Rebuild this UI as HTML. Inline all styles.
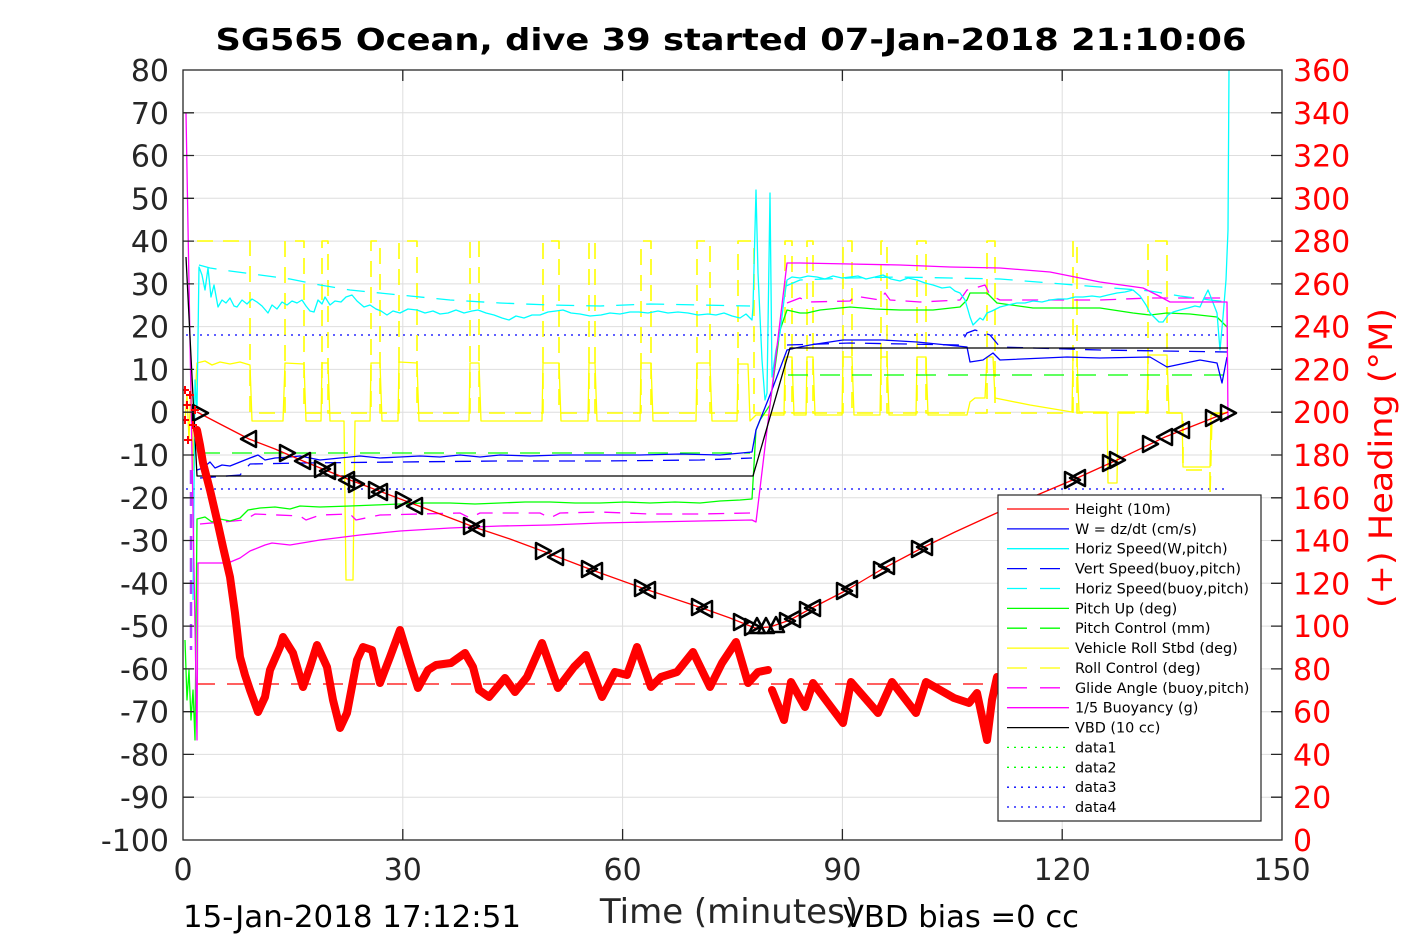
<!DOCTYPE html>
<html><head><meta charset="utf-8"><style>
html,body{margin:0;padding:0;background:#fff;}
svg{display:block;}
text{font-family:"DejaVu Sans","Liberation Sans",sans-serif;}
</style></head><body>
<svg width="1417" height="945" viewBox="0 0 1417 945" xmlns="http://www.w3.org/2000/svg">
<defs>
<clipPath id="pc"><rect x="183" y="70" width="1099" height="770"/></clipPath>
<path id="R" d="M-7,-8 L8,0 L-7,8 Z" fill="none" stroke="#000" stroke-width="2.5"/>
<path id="L" d="M7,-8 L-8,0 L7,8 Z" fill="none" stroke="#000" stroke-width="2.5"/>
<path id="U" d="M-8,7 L0,-8 L8,7 Z" fill="none" stroke="#000" stroke-width="2.5"/>
</defs>
<rect x="0" y="0" width="1417" height="945" fill="#fff"/>
<rect x="183" y="70" width="1099" height="770" fill="#fff"/>
<!-- grid -->
<g stroke="#dedede" stroke-width="1">
<line x1="183" y1="112.8" x2="1282" y2="112.8"/><line x1="183" y1="155.5" x2="1282" y2="155.5"/>
<line x1="183" y1="198.3" x2="1282" y2="198.3"/><line x1="183" y1="241.1" x2="1282" y2="241.1"/>
<line x1="183" y1="283.9" x2="1282" y2="283.9"/><line x1="183" y1="326.6" x2="1282" y2="326.6"/>
<line x1="183" y1="369.4" x2="1282" y2="369.4"/><line x1="183" y1="412.2" x2="1282" y2="412.2"/>
<line x1="183" y1="455" x2="1282" y2="455"/><line x1="183" y1="497.8" x2="1282" y2="497.8"/>
<line x1="183" y1="540.5" x2="1282" y2="540.5"/><line x1="183" y1="583.3" x2="1282" y2="583.3"/>
<line x1="183" y1="626.1" x2="1282" y2="626.1"/><line x1="183" y1="668.9" x2="1282" y2="668.9"/>
<line x1="183" y1="711.7" x2="1282" y2="711.7"/><line x1="183" y1="754.4" x2="1282" y2="754.4"/>
<line x1="183" y1="797.2" x2="1282" y2="797.2"/>
<line x1="402.8" y1="70" x2="402.8" y2="840"/><line x1="622.6" y1="70" x2="622.6" y2="840"/>
<line x1="842.4" y1="70" x2="842.4" y2="840"/><line x1="1062.2" y1="70" x2="1062.2" y2="840"/>
</g>
<g clip-path="url(#pc)" fill="none" stroke-linejoin="round">
<!-- reference lines -->
<line x1="186" y1="335" x2="1228" y2="335" stroke="#0000ff" stroke-width="1.3" stroke-dasharray="2 5"/>
<line x1="186" y1="489" x2="1228" y2="489" stroke="#0000ff" stroke-width="1.3" stroke-dasharray="2 5"/>
<line x1="195" y1="684" x2="1228" y2="684" stroke="#ff0000" stroke-width="1.3" stroke-dasharray="20 12"/>
<!-- yellow dashed roll control -->
<polyline stroke="#ffff00" stroke-width="1.6" stroke-dasharray="16 10" points="197,241 250,241 250,413 285,413 285,241 304,241 304,413 322,413 322,241 328,241 328,413 371,413 371,241 380,241 380,413 399,413 399,241 417,241 417,413 470,413 470,241 479,241 479,413 543,413 543,241 559,241 559,413 589,413 589,241 595,241 595,413 641,413 641,241 651,241 651,413 697,413 697,241 710,241 710,413 738,413 738,241 754,241 754,413 785,413 785,241 792,241 792,413 807,413 807,241 813,241 813,413 843,413 843,241 852,241 852,413 881,413 881,241 887,241 887,413 917,413 917,241 926,241 926,413 987,413 987,241 995,241 995,413 1073,413 1073,241 1077,241 1077,413 1148,413 1148,241 1167,241 1167,413 1183,413 1183,470 1210,470 1210,495 1212,413 1228,413"/>
<!-- yellow solid roll -->
<polyline stroke="#ffff00" stroke-width="1.3" points="185,420 187,395 189,440 191,380 193,470 195,400 197,363 205,361 212,365 220,362 230,364 240,362 250,365 252,421 283,421 285,363 304,364 306,421 321,421 322,363 328,363 330,421 344,421 346,580 353,580 355,421 370,421 371,363 380,363 382,421 398,421 399,362 417,363 419,421 469,421 470,363 479,363 481,421 542,421 543,363 559,363 561,421 588,421 589,363 595,363 597,421 640,421 641,363 651,363 653,421 696,421 697,363 710,363 712,421 737,421 738,364 748,364 750,421 756,415 784,415 785,357 792,357 794,415 806,415 807,357 813,357 815,415 842,415 843,357 852,357 854,415 880,415 881,357 887,357 889,415 916,415 917,357 926,357 928,415 967,415 970,402 975,398 985,398 987,357 993,357 995,398 1030,405 1060,410 1072,412 1073,357 1077,357 1079,412 1107,412 1108,483 1117,483 1118,412 1147,412 1148,355 1167,355 1169,413 1182,413 1183,467 1210,467 1211,415 1228,412"/>
<!-- green dashed pitch control -->
<polyline stroke="#00ff00" stroke-width="1.3" stroke-dasharray="20 12" points="200,453 750,453"/>
<polyline stroke="#00ff00" stroke-width="1.3" stroke-dasharray="20 12" points="788,375 1228,375"/>
<!-- magenta dashed glide angle -->
<polyline stroke="#ff00ff" stroke-width="1.3" stroke-dasharray="16 10" points="200,524 245,520 255,514 300,516 306,520 320,515 350,514 356,520 380,515 420,514 460,513 470,518 480,513 540,513 550,518 560,513 600,512 650,514 700,514 750,513"/>
<polyline stroke="#ff00ff" stroke-width="1.3" stroke-dasharray="16 10" points="787,303 800,298 808,302 850,301 855,296 880,300 885,293 890,300 920,302 960,300 967,290 975,288 985,285 990,295 1000,300 1100,300 1150,298 1228,298"/>
<!-- cyan dashed -->
<polyline stroke="#00ffff" stroke-width="1.3" stroke-dasharray="18 12" points="199,265 210,268 230,271 260,275 290,279 320,285 350,290 380,293 410,296 450,300 500,303 550,305 600,306 650,304 700,305 750,306"/>
<polyline stroke="#00ffff" stroke-width="1.3" stroke-dasharray="18 12" points="786,286 800,280 850,278 900,277 950,278 1000,279 1050,283 1100,287 1150,291 1180,296 1210,300 1228,302"/>
<!-- blue dashed -->
<polyline stroke="#0000ff" stroke-width="1.3" stroke-dasharray="16 10" points="200,478 240,475 250,464 300,463 400,462 500,461 600,461 700,460 752,458"/>
<polyline stroke="#0000ff" stroke-width="1.3" stroke-dasharray="16 10" points="787,345 850,343 960,345 967,333 975,330 990,335 1000,347 1100,350 1228,352"/>
<!-- magenta early dashed -->
<line x1="191" y1="470" x2="191" y2="650" stroke="#b040ff" stroke-width="2.5" stroke-dasharray="14 8"/>
<!-- green solid -->
<polyline stroke="#00ff00" stroke-width="1.3" points="185,640 187,700 189,670 191,720 193,690 195,740 197,519 205,517 212,522 220,519 230,521 240,518 248,510 260,508 275,507 290,509 300,506 320,507 350,506 375,505 400,504 425,503 450,503 475,504 500,503 525,502 550,502 575,503 600,503 625,502 650,503 675,502 700,503 720,501 740,500 752,499 756,430 760,420 770,405 780,330 787,310 800,313 807,313 820,310 850,307 875,309 900,310 933,310 960,307 967,300 970,293 987,293 997,303 1033,308 1100,308 1133,313 1150,315 1167,313 1190,314 1217,317 1227,327"/>
<!-- blue solid W -->
<polyline stroke="#0000ff" stroke-width="1.3" points="197,470 203,468 210,462 215,468 222,465 230,466 240,462 250,458 258,455 265,460 275,458 290,457 300,456 320,460 340,458 360,456 380,458 400,457 420,456 440,457 460,455 480,457 500,455 530,456 560,455 600,455 640,455 680,454 720,455 752,452 756,430 770,395 787,350 800,347 810,345 843,340 883,340 917,342 967,347 970,362 983,360 993,353 1000,360 1067,357 1100,358 1150,357 1167,367 1200,360 1217,363 1222,383 1227,357"/>
<!-- cyan solid -->
<polyline stroke="#00ffff" stroke-width="1.3" points="193,600 195,380 197,410 199,267 202,275 205,290 208,268 211,297 214,285 218,307 222,300 226,303 230,298 234,306 237,307 242,300 247,304 252,299 257,302 262,306 268,313 272,305 277,309 282,302 287,305 292,301 297,303 302,300 306,306 310,311 314,312 318,300 322,304 325,297 330,305 335,301 341,302 346,297 352,295 357,301 364,307 370,305 376,309 381,311 387,315 393,311 400,313 408,309 417,310 425,313 433,311 440,314 448,313 456,310 464,313 472,311 478,310 486,313 494,315 502,318 509,320 516,316 524,318 532,315 540,315 548,312 556,311 563,310 571,313 580,314 590,316 601,315 610,313 620,314 630,312 639,312 648,313 658,311 668,313 678,312 688,313 698,315 708,314 716,315 724,313 732,316 740,318 746,314 752,320 753,307 756,190 758,273 762,360 765,400 767,393 770,193 772,377 776,350 780,333 784,300 787,280 792,277 800,278 808,276 817,277 825,279 833,276 842,278 850,277 858,276 866,279 875,277 883,275 891,279 900,281 908,278 917,280 925,283 933,285 942,288 950,287 955,291 960,293 965,300 968,310 970,317 973,325 976,322 980,318 983,320 987,313 992,311 996,309 1000,307 1008,305 1017,303 1025,303 1033,301 1042,302 1050,300 1058,299 1067,299 1075,297 1083,297 1092,296 1100,297 1108,295 1117,293 1125,292 1133,290 1140,296 1146,305 1150,313 1155,318 1159,322 1163,322 1168,315 1173,312 1180,310 1188,308 1195,306 1200,307 1204,298 1208,290 1212,300 1217,313 1220,350 1223,317 1226,280 1228,230 1229,70"/>
<!-- magenta solid buoyancy -->
<polyline stroke="#ff00ff" stroke-width="1.3" points="186,113 197,740 198,563 228,563 240,558 250,551 265,545 272,543 290,545 320,540 360,535 400,531 450,528 500,526 550,525 600,523 650,522 700,521 752,520 756,522 787,263 800,263 850,264 900,265 950,267 1000,268 1050,272 1100,282 1143,288 1157,295 1170,302 1227,302 1228,420"/>
<!-- black VBD -->
<polyline stroke="#000" stroke-width="1.3" points="186,257 197,476 753,476 790,348 1228,348"/>
<!-- height line -->
<polyline stroke="#ff0000" stroke-width="1.3" points="197,412 220,424 249,439 275,449 303,461 350,480 403,500 440,514 474,527 510,539 545,552 592,570 645,589 702,608 730,618 755,628 770,627 790,620 810,609 847,590 884,568 922,548 955,532 990,516 1030,498 1075,479 1117,460 1165,437 1213,418 1228,412"/>
<!-- markers -->
<use href="#R" x="200" y="413"/><use href="#L" x="249" y="439"/><use href="#R" x="287" y="453"/><use href="#L" x="303" y="461"/>
<use href="#R" x="322" y="469"/><use href="#L" x="328" y="471"/><use href="#L" x="347" y="480"/><use href="#R" x="356" y="484"/>
<use href="#R" x="376" y="490"/><use href="#L" x="380" y="492"/><use href="#R" x="403" y="500"/><use href="#L" x="415" y="506"/>
<use href="#R" x="471" y="526"/><use href="#L" x="477" y="528"/><use href="#R" x="543" y="551"/><use href="#L" x="556" y="557"/>
<use href="#R" x="589" y="569"/><use href="#L" x="595" y="571"/><use href="#R" x="642" y="588"/><use href="#L" x="648" y="590"/>
<use href="#R" x="699" y="607"/><use href="#L" x="705" y="609"/><use href="#R" x="741" y="622"/><use href="#R" x="752" y="627"/>
<use href="#U" x="757" y="626"/><use href="#U" x="766" y="626"/><use href="#U" x="776" y="625"/>
<use href="#R" x="787" y="621"/><use href="#L" x="793" y="619"/><use href="#R" x="807" y="610"/><use href="#L" x="813" y="608"/>
<use href="#R" x="844" y="591"/><use href="#L" x="850" y="589"/><use href="#R" x="881" y="570"/><use href="#L" x="887" y="566"/>
<use href="#R" x="919" y="549"/><use href="#L" x="925" y="547"/><use href="#R" x="1072" y="480"/><use href="#L" x="1078" y="478"/>
<use href="#R" x="1110" y="463"/><use href="#R" x="1117" y="460"/><use href="#R" x="1150" y="444"/><use href="#L" x="1165" y="437"/>
<use href="#L" x="1182" y="430"/><use href="#R" x="1213" y="418"/><use href="#R" x="1228" y="413"/>
<!-- heading crosses -->
<g stroke="#ff0000" stroke-width="2">
<path d="M181,390h8M185,386v8 M183,405h8M187,401v8 M181,420h8M185,416v8 M186,395h8M190,391v8 M189,425h8M193,421v8 M184,440h8M188,436v8 M191,410h8M195,406v8"/>
</g>
<polyline stroke="#ff0000" stroke-width="8" stroke-linecap="round" points="197,430 200,445 203,463 210,490 217,520 223,547 230,577 235,613 240,657 245,675 250,690 258,712 265,697 270,670 280,647 283,637 293,653 303,687 310,667 317,645 327,667 333,700 340,728 347,713 357,660 363,647 372,650 380,683 390,657 400,630 410,663 418,688 428,670 436,665 451,663 465,653 473,667 479,690 489,697 505,678 515,692 527,677 542,643 558,688 574,667 586,655 602,697 615,672 627,675 637,647 651,687 661,677 677,672 693,652 710,687 722,663 736,642 748,683 758,672 768,670"/>
<polyline stroke="#ff0000" stroke-width="8" stroke-linecap="round" points="772,690 784,720 791,682 805,707 813,683 843,723 851,682 878,713 892,682 916,713 926,682 954,698 969,703 977,693 987,740 992,700 997,677"/>
</g>
<!-- axes box -->
<rect x="183" y="70" width="1099" height="770" fill="none" stroke="#262626" stroke-width="1.3"/>
<!-- ticks -->
<g stroke="#262626" stroke-width="1.3">
<path d="M183,112.8h11M183,155.5h11M183,198.3h11M183,241.1h11M183,283.9h11M183,326.6h11M183,369.4h11M183,412.2h11M183,455h11M183,497.8h11M183,540.5h11M183,583.3h11M183,626.1h11M183,668.9h11M183,711.7h11M183,754.4h11M183,797.2h11"/>
<path d="M1282,112.8h-11M1282,155.5h-11M1282,198.3h-11M1282,241.1h-11M1282,283.9h-11M1282,326.6h-11M1282,369.4h-11M1282,412.2h-11M1282,455h-11M1282,497.8h-11M1282,540.5h-11M1282,583.3h-11M1282,626.1h-11M1282,668.9h-11M1282,711.7h-11M1282,754.4h-11M1282,797.2h-11"/>
<path d="M402.8,70v11M622.6,70v11M842.4,70v11M1062.2,70v11M402.8,840v-11M622.6,840v-11M842.4,840v-11M1062.2,840v-11"/>
</g>
<!-- legend -->
<rect x="998" y="495" width="263" height="326" fill="#fff" stroke="#262626" stroke-width="1.2"/>
<g fill="none" stroke-width="1.3">
<line x1="1007" y1="509" x2="1069" y2="509" stroke="#ff0000"/>
<line x1="1007" y1="528.9" x2="1069" y2="528.9" stroke="#0000ff"/>
<line x1="1007" y1="548.7" x2="1069" y2="548.7" stroke="#00ffff"/>
<line x1="1007" y1="568.6" x2="1069" y2="568.6" stroke="#0000ff" stroke-dasharray="20 13"/>
<line x1="1007" y1="588.5" x2="1069" y2="588.5" stroke="#00ffff" stroke-dasharray="20 13"/>
<line x1="1007" y1="608.4" x2="1069" y2="608.4" stroke="#00ff00"/>
<line x1="1007" y1="628.2" x2="1069" y2="628.2" stroke="#00ff00" stroke-dasharray="20 13"/>
<line x1="1007" y1="648.1" x2="1069" y2="648.1" stroke="#ffff00"/>
<line x1="1007" y1="668" x2="1069" y2="668" stroke="#ffff00" stroke-dasharray="20 13"/>
<line x1="1007" y1="687.8" x2="1069" y2="687.8" stroke="#ff00ff" stroke-dasharray="20 13"/>
<line x1="1007" y1="707.7" x2="1069" y2="707.7" stroke="#ff00ff"/>
<line x1="1007" y1="727.6" x2="1069" y2="727.6" stroke="#000"/>
<line x1="1007" y1="747.4" x2="1069" y2="747.4" stroke="#00ff00" stroke-dasharray="2 5"/>
<line x1="1007" y1="767.3" x2="1069" y2="767.3" stroke="#00ff00" stroke-dasharray="2 5"/>
<line x1="1007" y1="787.2" x2="1069" y2="787.2" stroke="#0000ff" stroke-dasharray="2 5"/>
<line x1="1007" y1="807" x2="1069" y2="807" stroke="#0000ff" stroke-dasharray="2 5"/>
</g>
<g font-size="14.4" fill="#000">
<text x="1075" y="514">Height (10m)</text>
<text x="1075" y="533.9">W = dz/dt (cm/s)</text>
<text x="1075" y="553.7">Horiz Speed(W,pitch)</text>
<text x="1075" y="573.6">Vert Speed(buoy,pitch)</text>
<text x="1075" y="593.5">Horiz Speed(buoy,pitch)</text>
<text x="1075" y="613.4">Pitch Up (deg)</text>
<text x="1075" y="633.2">Pitch Control (mm)</text>
<text x="1075" y="653.1">Vehicle Roll Stbd (deg)</text>
<text x="1075" y="673">Roll Control (deg)</text>
<text x="1075" y="692.8">Glide Angle (buoy,pitch)</text>
<text x="1075" y="712.7">1/5 Buoyancy (g)</text>
<text x="1075" y="732.6">VBD (10 cc)</text>
<text x="1075" y="752.4">data1</text>
<text x="1075" y="772.3">data2</text>
<text x="1075" y="792.2">data3</text>
<text x="1075" y="812">data4</text>
</g>
<!-- left tick labels -->
<g font-size="30" fill="#262626" text-anchor="end">
<text x="169" y="81">80</text><text x="169" y="123.8">70</text><text x="169" y="166.5">60</text>
<text x="169" y="209.3">50</text><text x="169" y="252.1">40</text><text x="169" y="294.9">30</text>
<text x="169" y="337.6">20</text><text x="169" y="380.4">10</text><text x="169" y="423.2">0</text>
<text x="169" y="466">-10</text><text x="169" y="508.8">-20</text><text x="169" y="551.5">-30</text>
<text x="169" y="594.3">-40</text><text x="169" y="637.1">-50</text><text x="169" y="679.9">-60</text>
<text x="169" y="722.7">-70</text><text x="169" y="765.4">-80</text><text x="169" y="808.2">-90</text>
<text x="169" y="851">-100</text>
</g>
<!-- right tick labels -->
<g font-size="30" fill="#ff0000" text-anchor="start">
<text x="1293" y="81">360</text><text x="1293" y="123.8">340</text><text x="1293" y="166.5">320</text>
<text x="1293" y="209.3">300</text><text x="1293" y="252.1">280</text><text x="1293" y="294.9">260</text>
<text x="1293" y="337.6">240</text><text x="1293" y="380.4">220</text><text x="1293" y="423.2">200</text>
<text x="1293" y="466">180</text><text x="1293" y="508.8">160</text><text x="1293" y="551.5">140</text>
<text x="1293" y="594.3">120</text><text x="1293" y="637.1">100</text><text x="1293" y="679.9">80</text>
<text x="1293" y="722.7">60</text><text x="1293" y="765.4">40</text><text x="1293" y="808.2">20</text>
<text x="1293" y="851">0</text>
</g>
<!-- x tick labels -->
<g font-size="30" fill="#262626" text-anchor="middle">
<text x="183" y="880">0</text><text x="402.8" y="880">30</text><text x="622.6" y="880">60</text>
<text x="842.4" y="880">90</text><text x="1062.2" y="880">120</text><text x="1282" y="880">150</text>
</g>
<text x="729" y="923" font-size="34" fill="#262626" text-anchor="middle">Time (minutes)</text>
<text x="183" y="927" font-size="30" fill="#000" textLength="338" lengthAdjust="spacingAndGlyphs">15-Jan-2018 17:12:51</text>
<text x="843" y="927" font-size="30" fill="#000" textLength="236" lengthAdjust="spacingAndGlyphs">VBD bias =0 cc</text>
<text transform="translate(1392,458) rotate(-90)" font-size="32" fill="#ff0000" text-anchor="middle" textLength="300" lengthAdjust="spacingAndGlyphs">(+) Heading (°M)</text>
<text x="731" y="50" font-size="30" font-weight="bold" fill="#000" text-anchor="middle" textLength="1031" lengthAdjust="spacingAndGlyphs">SG565 Ocean, dive 39 started 07-Jan-2018 21:10:06</text>
</svg>
</body></html>
